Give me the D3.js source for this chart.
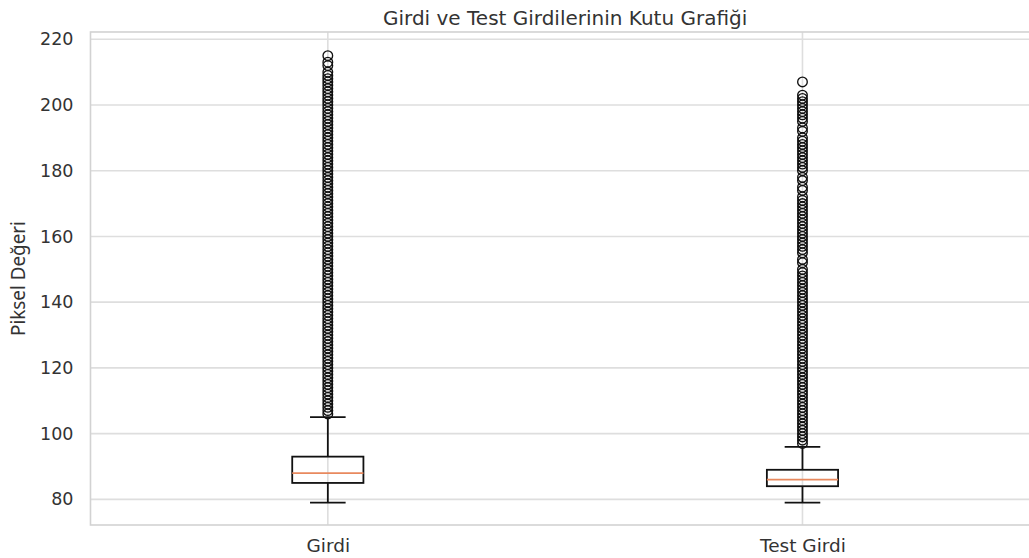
<!DOCTYPE html>
<html>
<head>
<meta charset="utf-8">
<script src="https://cdn.jsdelivr.net/npm/d3@7"></script>
<style>
  html, body { margin: 0; padding: 0; background: #fff; }
  svg { display: block; }
</style>
</head>
<body>
<div id="chart"></div>
<script>
// Box summaries of pixel values for the two input sets
const categories = ["Girdi", "Test Girdi"];
const whiskerLow = [79, 79];
const q1 = [85, 84];
const medians = [88, 86];
const q3 = [93, 89];
const whiskerHigh = [105, 96];

// Points lying beyond the upper whisker
const outliersGirdi = [
  106, 107, 108, 109, 110, 111, 112, 113, 114, 115, 116, 117, 118, 119, 120,
  121, 122, 123, 124, 125, 126, 127, 128, 129, 130, 131, 132, 133, 134, 135,
  136, 137, 138, 139, 140, 141, 142, 143, 144, 145, 146, 147, 148, 149, 150,
  151, 152, 153, 154, 155, 156, 157, 158, 159, 160, 161, 162, 163, 164, 165,
  166, 167, 168, 169, 170, 171, 172, 173, 174, 175, 176, 177, 178, 179, 180,
  181, 182, 183, 184, 185, 186, 187, 188, 189, 190, 191, 192, 193, 194, 195,
  196, 197, 198, 199, 200, 201, 202, 203, 204, 205, 206, 207, 208, 209, 210,
  212, 213, 215
];
const outliersTest = [
  97, 98, 99, 100, 101, 102, 103, 104, 105, 106, 107, 108, 109, 110, 111,
  112, 113, 114, 115, 116, 117, 118, 119, 120, 121, 122, 123, 124, 125, 126,
  127, 128, 129, 130, 131, 132, 133, 134, 135, 136, 137, 138, 139, 140, 141,
  142, 143, 144, 145, 146, 147, 148, 149, 150, 152, 153, 155, 156, 157, 158,
  159, 160, 161, 162, 163, 164, 165, 166, 167, 168, 169, 170, 171, 172, 174,
  175, 177, 178, 180, 181, 182, 183, 184, 185, 186, 187, 188, 189, 190, 192,
  193, 195, 196, 197, 198, 199, 200, 201, 202, 203, 207
];
const outliers = [outliersGirdi, outliersTest];

const yTicks = [80, 100, 120, 140, 160, 180, 200, 220];

const titleText = "Girdi ve Test Girdilerinin Kutu Grafiği";
const yLabel = "Piksel Değeri";

const W = 1029, H = 558;
const frame = { left: 90.5, right: 1039.8, top: 32, bottom: 525 };

const svg = d3.select("#chart").append("svg")
  .attr("width", W).attr("height", H)
  .style("font-family", "'DejaVu Sans', sans-serif");

const x = d3.scaleLinear().domain([0.5, 2.5]).range([frame.left, frame.right]);
const y = d3.scaleLinear().domain([72.2, 222.2]).range([frame.bottom, frame.top]);

const gridColor = "#dedede";
const textColor = "#333333";

// Grid
const grid = svg.append("g");
grid.selectAll("line.h").data(yTicks).join("line")
  .attr("x1", frame.left).attr("x2", frame.right)
  .attr("y1", d => y(d)).attr("y2", d => y(d))
  .attr("stroke", gridColor).attr("stroke-width", 1.6);
grid.selectAll("line.v").data(categories).join("line")
  .attr("x1", (d, i) => x(i + 1)).attr("x2", (d, i) => x(i + 1))
  .attr("y1", frame.top).attr("y2", frame.bottom)
  .attr("stroke", gridColor).attr("stroke-width", 1.6);

// Frame
svg.append("rect")
  .attr("x", frame.left).attr("y", frame.top)
  .attr("width", frame.right - frame.left).attr("height", frame.bottom - frame.top)
  .attr("fill", "none").attr("stroke", "#d2d2d2").attr("stroke-width", 1.6);

// Y axis tick labels
const yAxis = d3.axisLeft(y).tickValues(yTicks).tickSize(0).tickPadding(17);
const gy = svg.append("g").attr("transform", `translate(${frame.left},0)`).call(yAxis);
gy.select(".domain").remove();
gy.selectAll("text").attr("fill", textColor).style("font-size", "17.5px")
  .style("font-family", "'DejaVu Sans', sans-serif");

// X axis tick labels
const xAxis = d3.axisBottom(x).tickValues([1, 2]).tickFormat((d, i) => categories[i])
  .tickSize(0).tickPadding(14);
const gx = svg.append("g").attr("transform", `translate(0,${frame.bottom})`).call(xAxis);
gx.select(".domain").remove();
gx.selectAll("text").attr("fill", textColor).style("font-size", "18.5px")
  .style("font-family", "'DejaVu Sans', sans-serif");

// Boxes
const boxW = 0.15;
const capW = boxW / 2;
const boxes = svg.append("g");
categories.forEach((c, i) => {
  const cx = i + 1;
  const g = boxes.append("g");
  // whiskers
  g.append("line").attr("x1", x(cx)).attr("x2", x(cx))
    .attr("y1", y(q1[i])).attr("y2", y(whiskerLow[i]))
    .attr("stroke", "#111").attr("stroke-width", 1.8);
  g.append("line").attr("x1", x(cx)).attr("x2", x(cx))
    .attr("y1", y(q3[i])).attr("y2", y(whiskerHigh[i]))
    .attr("stroke", "#111").attr("stroke-width", 1.8);
  // caps
  [whiskerLow[i], whiskerHigh[i]].forEach(v => {
    g.append("line").attr("x1", x(cx - capW / 2)).attr("x2", x(cx + capW / 2))
      .attr("y1", y(v)).attr("y2", y(v))
      .attr("stroke", "#111").attr("stroke-width", 1.8);
  });
  // box
  g.append("rect")
    .attr("x", x(cx - boxW / 2)).attr("y", y(q3[i]))
    .attr("width", x(cx + boxW / 2) - x(cx - boxW / 2))
    .attr("height", y(q1[i]) - y(q3[i]))
    .attr("fill", "none").attr("stroke", "#111").attr("stroke-width", 1.8);
  // median
  g.append("line").attr("x1", x(cx - boxW / 2)).attr("x2", x(cx + boxW / 2))
    .attr("y1", y(medians[i])).attr("y2", y(medians[i]))
    .attr("stroke", "#e8895e").attr("stroke-width", 1.8);
  // outliers
  g.selectAll("circle").data(outliers[i]).join("circle")
    .attr("cx", x(cx)).attr("cy", d => y(d)).attr("r", 4.8)
    .attr("fill", "none").attr("stroke", "#111").attr("stroke-width", 1.35);
});

// Title
svg.append("text")
  .attr("x", x(1.5)).attr("y", 24.5)
  .attr("text-anchor", "middle")
  .attr("fill", textColor)
  .style("font-size", "20px")
  .text(titleText);

// Y label
svg.append("text")
  .attr("transform", `translate(25,${(frame.top + frame.bottom) / 2}) rotate(-90)`)
  .attr("text-anchor", "middle")
  .attr("fill", textColor)
  .attr("textLength", 115)
  .attr("lengthAdjust", "spacingAndGlyphs")
  .style("font-family", "'Noto Sans', 'Open Sans', sans-serif")
  .style("font-size", "19px")
  .text(yLabel);
</script>
</body>
</html>
